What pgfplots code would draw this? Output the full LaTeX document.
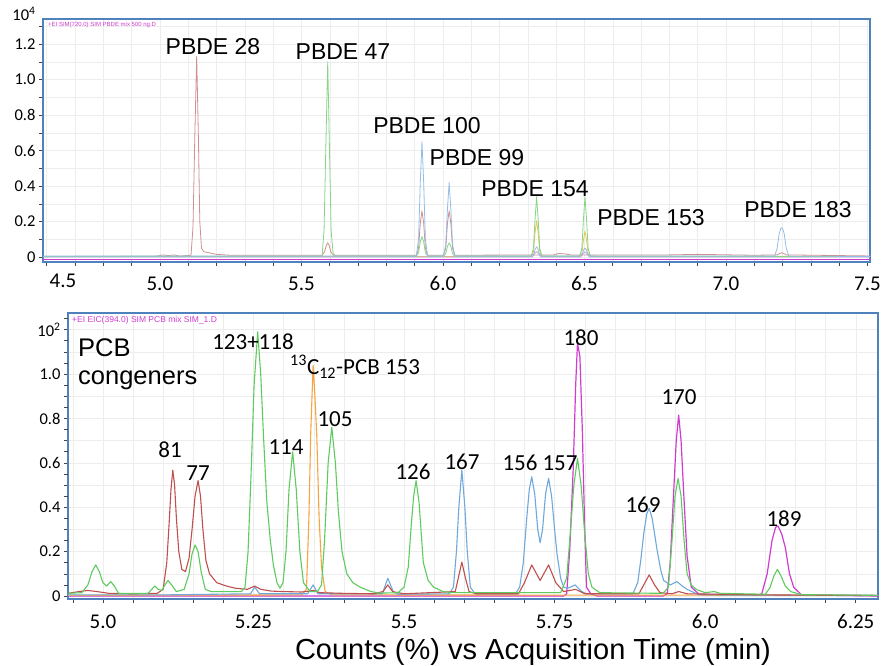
\documentclass[border=0pt]{standalone}
\usepackage{pgfplots}
\pgfplotsset{compat=1.18}
\usepackage{fontspec}
\setmainfont{Liberation Sans}
\newfontfamily\carl{Carlito}
\definecolor{axblue}{HTML}{4F81BD}
\definecolor{cred}{HTML}{C0504D}
\definecolor{cgreen}{HTML}{5FCB5F}
\definecolor{cblue}{HTML}{6FA8DC}
\definecolor{corange}{HTML}{F7A541}
\definecolor{cmag}{HTML}{D03CD0}
\definecolor{tred}{HTML}{D09090}
\definecolor{tgreen}{HTML}{86D686}
\definecolor{tblue}{HTML}{94BDE6}
\definecolor{tyellow}{HTML}{E8C35A}
\definecolor{tlav}{HTML}{B9A7E0}
\newcommand{\fs}[1]{\fontsize{#1}{#1}\selectfont}
\begin{document}
\begin{tikzpicture}[x=1pt,y=1pt]
\path[use as bounding box, fill=white] (0,0) rectangle (881,-666);
\pgfplotsset{
  common/.style={
    scale only axis, anchor=south west,
    axis line style={draw=axblue, line width=1.3pt},
    tick style={draw=gray!55!black, line width=0.5pt},
    major tick length=4pt, minor tick length=4pt,
    tick align=outside, xtick pos=bottom, ytick pos=left,
    grid=both, major grid style={draw=gray!14}, minor grid style={draw=gray!14},
    every axis plot/.append style={line width=1.1pt, line join=round, mark=none},
    clip=true,
  }
}
% ---------------- top panel ----------------
\begin{axis}[common,
  at={(43pt,-262pt)}, width=827pt, height=243pt,
  xmin=4.587, xmax=7.509, ymin=-0.028, ymax=1.341,
  xtick={5,5.5,6,6.5,7,7.5}, xticklabels={5.0,5.5,6.0,6.5,7.0,7.5},
  minor xtick={4.6,4.7,4.8,4.9,5.1,5.2,5.3,5.4,5.6,5.7,5.8,5.9,6.1,6.2,6.3,6.4,6.6,6.7,6.8,6.9,7.1,7.2,7.3,7.4},
  ytick={0,0.2,0.4,0.6,0.8,1.0,1.2}, yticklabels={0,0.2,0.4,0.6,0.8,1.0,1.2},
  minor ytick={0.1,0.3,0.5,0.7,0.9,1.1,1.3},
  xticklabel style={font=\carl\fs{21}, yshift=-7pt},
  yticklabel style={font=\carl\fs{16.5}},
  every axis plot/.append style={line width=0.8pt},
]
\addplot[cmag, line width=1pt] coordinates {(4.587,-0.016) (7.509,-0.016)};
\addplot[tyellow] coordinates {(4.587,0.003) (6.312,0.003) (6.320,0.03) (6.325,0.13) (6.331,0.205) (6.337,0.13) (6.342,0.03) (6.350,0.003) (6.483,0.003) (6.491,0.02) (6.496,0.09) (6.502,0.146) (6.508,0.09) (6.513,0.02) (6.521,0.003) (7.509,0.003)};
\addplot[tlav] coordinates {(4.587,0.0) (6.316,0.0) (6.324,0.02) (6.331,0.03) (6.338,0.02) (6.346,0.0) (6.487,0.0) (6.495,0.02) (6.502,0.028) (6.509,0.02) (6.517,0.0) (7.509,0.0)};
\addplot[tred] coordinates {(4.587,0.003) (4.99,0.005) (5.01,0.012) (5.03,0.008) (5.05,0.012) (5.07,0.005) (5.110,0.01) (5.117,0.17) (5.123,0.65) (5.130,1.13) (5.136,0.68) (5.141,0.2) (5.147,0.05) (5.155,0.03) (5.17,0.025) (5.2,0.015) (5.25,0.01) (5.573,0.01) (5.582,0.03) (5.588,0.065) (5.593,0.08) (5.598,0.065) (5.604,0.03) (5.613,0.01) (5.906,0.01) (5.914,0.05) (5.920,0.19) (5.926,0.26) (5.932,0.19) (5.938,0.05) (5.946,0.01) (6.002,0.01) (6.010,0.05) (6.016,0.19) (6.022,0.26) (6.028,0.19) (6.034,0.05) (6.042,0.01) (6.39,0.012) (6.41,0.02) (6.43,0.018) (6.45,0.012) (6.8,0.012) (6.9,0.015) (7.1,0.01) (7.180,0.012) (7.190,0.02) (7.197,0.024) (7.204,0.02) (7.214,0.012) (7.509,0.006)};
\addplot[tgreen] coordinates {(4.587,0.003) (5.573,0.005) (5.580,0.15) (5.586,0.6) (5.593,1.10) (5.599,0.62) (5.605,0.15) (5.612,0.02) (5.62,0.006) (5.906,0.005) (5.914,0.025) (5.920,0.085) (5.926,0.115) (5.932,0.085) (5.938,0.025) (5.946,0.005) (6.002,0.005) (6.010,0.02) (6.016,0.06) (6.022,0.08) (6.028,0.06) (6.034,0.02) (6.042,0.005) (6.312,0.005) (6.320,0.05) (6.325,0.2) (6.331,0.34) (6.337,0.2) (6.342,0.05) (6.350,0.005) (6.483,0.005) (6.491,0.05) (6.496,0.2) (6.502,0.34) (6.508,0.2) (6.513,0.05) (6.521,0.005) (7.509,0.003)};
\addplot[tblue] coordinates {(4.587,0.005) (5.906,0.005) (5.914,0.1) (5.920,0.42) (5.926,0.65) (5.932,0.42) (5.938,0.1) (5.946,0.005) (6.002,0.005) (6.010,0.07) (6.016,0.27) (6.022,0.42) (6.028,0.27) (6.034,0.07) (6.042,0.005) (6.314,0.005) (6.322,0.02) (6.326,0.045) (6.331,0.058) (6.336,0.045) (6.340,0.02) (6.348,0.005) (6.485,0.005) (6.493,0.02) (6.497,0.04) (6.502,0.05) (6.507,0.04) (6.511,0.02) (6.519,0.005) (7.172,0.005) (7.181,0.05) (7.188,0.13) (7.194,0.162) (7.197,0.165) (7.200,0.162) (7.206,0.13) (7.213,0.05) (7.222,0.005) (7.509,0.003)};
\end{axis}
% ---------------- bottom panel ----------------
\begin{axis}[common,
  at={(68pt,-599pt)}, width=810pt, height=286pt,
  xmin=4.942, xmax=6.287, ymin=-0.0135, ymax=1.275,
  xtick={5,5.25,5.5,5.75,6,6.25}, xticklabels={5.0,5.25,5.5,5.75,6.0,6.25},
  minor xtick={4.95,5.05,5.10,5.15,5.20,5.30,5.35,5.40,5.45,5.55,5.60,5.65,5.70,5.80,5.85,5.90,5.95,6.05,6.10,6.15,6.20},
  ytick={0,0.2,0.4,0.6,0.8,1.0,1.2}, yticklabels={0,0.2,0.4,0.6,0.8,1.0,10\textsuperscript{2}},
  minor ytick={0.1,0.3,0.5,0.7,0.9,1.1},
  extra y ticks={0.05,0.15,0.25,0.35,0.45,0.55,0.65,0.75,0.85,0.95,1.05,1.15,1.25},
  extra y tick labels={}, extra y tick style={grid=none},
  xticklabel style={font=\carl\fs{21}, yshift=-8pt},
  yticklabel style={font=\carl\fs{16.5}},
]
\addplot[cmag, line width=1.2pt] coordinates {(4.942,0.0) (5.765,0.0) (5.770,0.01) (5.775,0.2) (5.781,0.58) (5.785,0.95) (5.788,1.14) (5.792,1.08) (5.796,0.75) (5.800,0.3) (5.803,0.04) (5.81,0.01) (5.82,0.0) (5.93,0.0) (5.937,0.01) (5.942,0.15) (5.947,0.43) (5.952,0.7) (5.956,0.815) (5.960,0.7) (5.965,0.43) (5.970,0.18) (5.977,0.04) (5.99,0.008) (6.09,0.005) (6.094,0.01) (6.103,0.1) (6.111,0.25) (6.117,0.31) (6.121,0.315) (6.127,0.28) (6.133,0.22) (6.140,0.1) (6.147,0.04) (6.16,0.005) (6.287,0.0)};
\addplot[corange] coordinates {(4.942,0.003) (5.33,0.005) (5.338,0.03) (5.342,0.35) (5.345,0.73) (5.349,1.04) (5.352,0.9) (5.355,0.73) (5.359,0.35) (5.363,0.13) (5.369,0.02) (5.38,0.005) (6.287,0.003)};
\addplot[cblue] coordinates {(4.942,0.005) (5.10,0.005) (5.245,0.01) (5.252,0.04) (5.26,0.01) (5.34,0.01) (5.349,0.05) (5.357,0.01) (5.464,0.01) (5.473,0.08) (5.482,0.02) (5.49,0.008) (5.575,0.01) (5.582,0.04) (5.587,0.2) (5.591,0.4) (5.596,0.567) (5.601,0.4) (5.605,0.2) (5.610,0.04) (5.618,0.01) (5.685,0.01) (5.692,0.04) (5.698,0.15) (5.704,0.36) (5.708,0.48) (5.712,0.537) (5.717,0.46) (5.722,0.3) (5.726,0.24) (5.730,0.3) (5.735,0.46) (5.740,0.53) (5.745,0.45) (5.750,0.3) (5.754,0.19) (5.760,0.08) (5.765,0.04) (5.772,0.035) (5.784,0.05) (5.795,0.02) (5.803,0.01) (5.88,0.01) (5.888,0.06) (5.893,0.16) (5.898,0.28) (5.903,0.37) (5.907,0.395) (5.912,0.35) (5.916,0.28) (5.920,0.21) (5.926,0.12) (5.931,0.07) (5.942,0.05) (5.953,0.065) (5.962,0.045) (5.97,0.03) (5.99,0.005) (6.287,0.003)};
\addplot[cred] coordinates {(4.942,0.012) (4.96,0.02) (4.975,0.025) (4.99,0.02) (5.01,0.012) (5.05,0.01) (5.09,0.012) (5.100,0.03) (5.106,0.15) (5.110,0.33) (5.113,0.48) (5.116,0.567) (5.119,0.5) (5.122,0.35) (5.126,0.2) (5.131,0.12) (5.137,0.11) (5.143,0.17) (5.148,0.3) (5.153,0.45) (5.158,0.52) (5.162,0.45) (5.166,0.3) (5.171,0.16) (5.177,0.1) (5.189,0.06) (5.205,0.045) (5.22,0.035) (5.24,0.03) (5.252,0.045) (5.262,0.03) (5.28,0.022) (5.30,0.02) (5.33,0.018) (5.35,0.025) (5.36,0.015) (5.40,0.012) (5.45,0.01) (5.465,0.02) (5.473,0.05) (5.481,0.02) (5.50,0.01) (5.585,0.02) (5.590,0.08) (5.596,0.153) (5.602,0.08) (5.608,0.02) (5.62,0.01) (5.69,0.01) (5.700,0.06) (5.712,0.14) (5.726,0.07) (5.740,0.14) (5.752,0.06) (5.765,0.02) (5.785,0.03) (5.80,0.01) (5.89,0.01) (5.898,0.05) (5.907,0.095) (5.916,0.05) (5.925,0.015) (5.945,0.01) (5.956,0.02) (5.97,0.01) (6.1,0.005) (6.287,0.002)};
\addplot[cgreen] coordinates {(4.942,0.012) (4.965,0.015) (4.975,0.05) (4.982,0.11) (4.988,0.14) (4.994,0.11) (5.0,0.06) (5.006,0.045) (5.013,0.065) (5.019,0.045) (5.026,0.012) (5.075,0.012) (5.081,0.03) (5.086,0.045) (5.092,0.03) (5.098,0.025) (5.103,0.05) (5.108,0.07) (5.114,0.05) (5.122,0.02) (5.135,0.03) (5.143,0.1) (5.148,0.19) (5.153,0.23) (5.158,0.2) (5.163,0.11) (5.17,0.03) (5.18,0.02) (5.23,0.02) (5.236,0.04) (5.241,0.2) (5.246,0.55) (5.251,0.95) (5.257,1.19) (5.262,1.0) (5.267,0.7) (5.272,0.43) (5.278,0.25) (5.283,0.14) (5.289,0.06) (5.294,0.035) (5.299,0.06) (5.304,0.2) (5.309,0.48) (5.315,0.65) (5.321,0.48) (5.327,0.2) (5.333,0.06) (5.344,0.02) (5.356,0.02) (5.363,0.05) (5.368,0.25) (5.374,0.6) (5.380,0.76) (5.386,0.6) (5.391,0.38) (5.397,0.2) (5.405,0.1) (5.415,0.06) (5.427,0.04) (5.445,0.02) (5.46,0.013) (5.49,0.015) (5.50,0.04) (5.507,0.13) (5.512,0.32) (5.516,0.45) (5.520,0.52) (5.525,0.42) (5.532,0.15) (5.540,0.07) (5.549,0.04) (5.565,0.02) (5.58,0.015) (5.76,0.015) (5.770,0.08) (5.776,0.28) (5.782,0.5) (5.788,0.62) (5.794,0.5) (5.800,0.28) (5.806,0.1) (5.812,0.04) (5.825,0.015) (5.93,0.012) (5.939,0.04) (5.945,0.25) (5.950,0.45) (5.955,0.53) (5.960,0.45) (5.965,0.25) (5.970,0.1) (5.977,0.05) (5.985,0.03) (6.0,0.015) (6.015,0.02) (6.025,0.012) (6.10,0.008) (6.108,0.04) (6.114,0.09) (6.120,0.12) (6.126,0.09) (6.133,0.045) (6.142,0.02) (6.16,0.006) (6.287,0.003)};
\end{axis}
% ---------------- texts ----------------
\node[font=\carl\fs{21}, inner sep=0pt] at (63,-281) {4.5};
\node[anchor=west, text=cmag, font=\fs{6}, inner sep=0pt] at (48,-25) {+EI SIM(720.0) SIM PBDE mix 500 ng.D};
\node[anchor=west, text=cmag, font=\fs{8.5}, inner sep=0pt] at (72,-320) {+EI EIC(394.0) SIM PCB mix SIM\_1.D};
\node[font=\carl\fs{16.5}, inner sep=0pt] at (24,-14) {10\textsuperscript{4}};
\begin{scope}[every node/.style={font=\fs{23}, inner sep=0pt}]
\node at (213,-47) {PBDE 28};
\node at (343,-52) {PBDE 47};
\node at (427,-126) {PBDE 100};
\node at (477,-158) {PBDE 99};
\node at (535,-189) {PBDE 154};
\node at (651,-218) {PBDE 153};
\node at (798,-210) {PBDE 183};
\end{scope}
\node[anchor=west, align=left, font=\fs{25.5}, inner sep=0pt] at (78,-364) {PCB\\[3pt]congeners};
\begin{scope}[every node/.style={font=\carl\fs{23}, inner sep=0pt}]
\node at (170,-450) {81};
\node at (198,-473) {77};
\node at (253,-342) {123+118};
\node at (286,-447) {114};
\node[anchor=west] at (290,-367) {\textsuperscript{13}C\textsubscript{12}-PCB 153};
\node at (335,-419) {105};
\node at (413,-472) {126};
\node at (462,-462) {167};
\node at (520,-463) {156};
\node at (560,-463) {157};
\node at (581,-338) {180};
\node at (679,-397) {170};
\node at (643,-505) {169};
\node at (784,-519) {189};
\end{scope}
\node[font=\fs{29}, inner sep=0pt] at (533,-652) {Counts (\%) vs Acquisition Time (min)};
\end{tikzpicture}
\end{document}
